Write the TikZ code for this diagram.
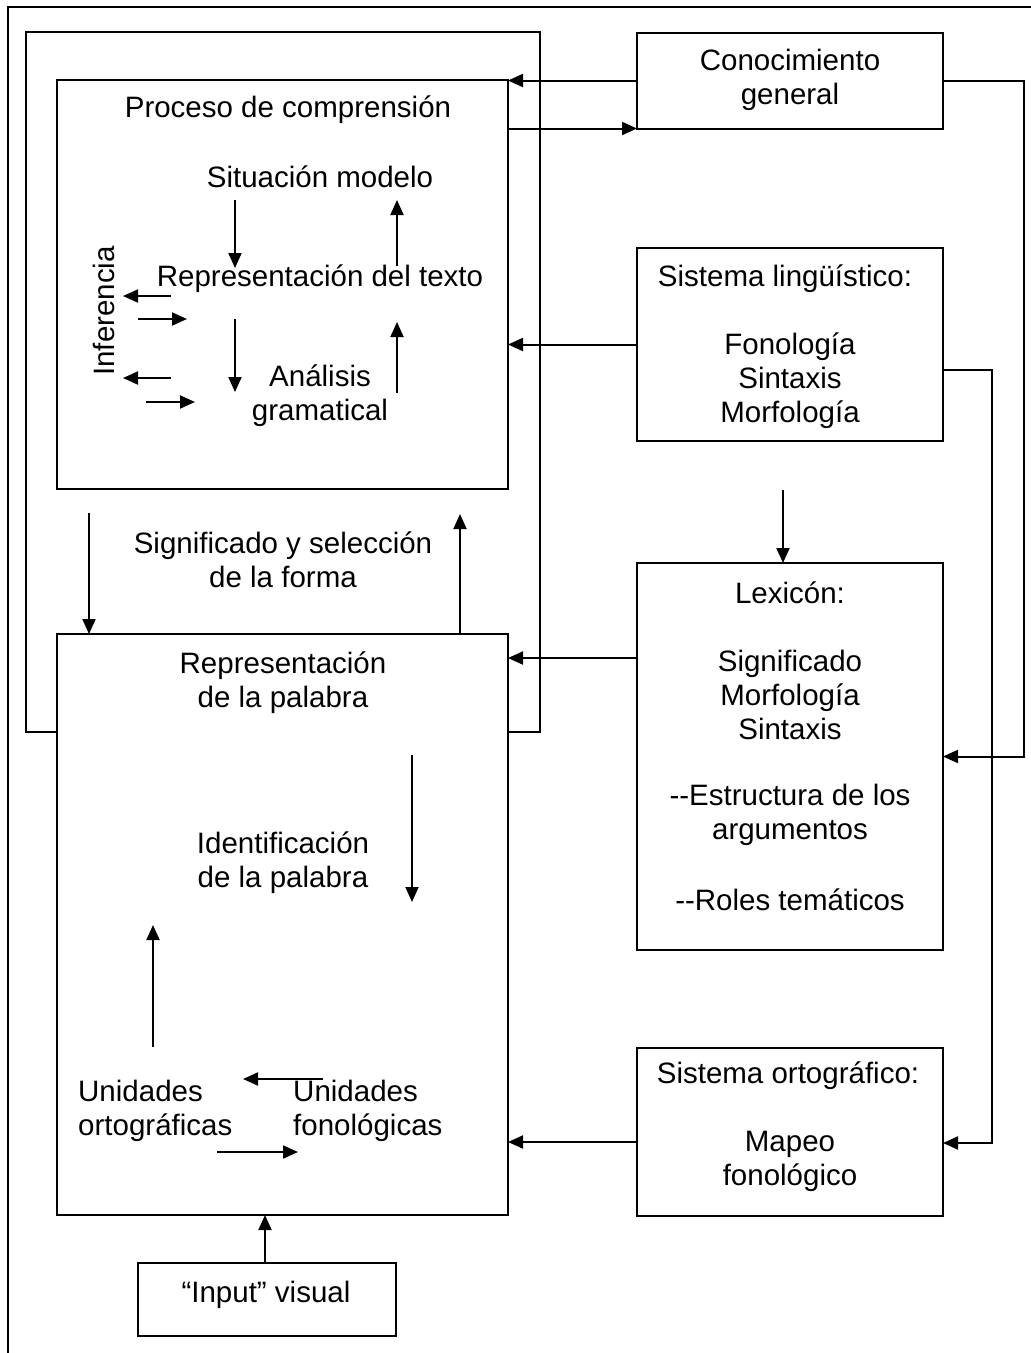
\documentclass[tikz,border=0pt]{standalone}
\usepackage{fontspec}
\setmainfont{Liberation Sans}
\usetikzlibrary{arrows.meta}
\begin{document}
\begin{tikzpicture}[x=1pt,y=-1pt,
  box/.style={draw, line width=2pt, fill=white, inner sep=0pt, outer sep=0pt},
  txt/.style={font=\fontsize{29.5}{34}\selectfont, align=center, inner sep=0pt, yshift=-2pt},
  arr/.style={line width=2pt, -{Triangle[length=15pt,width=13pt]}},
  ln/.style={line width=2pt}]
\useasboundingbox (0,0) rectangle (1031,1353);
\fill[white] (0,0) rectangle (1031,1353);
% outer frame (cut off at right and bottom)
\draw[ln] (8,1353) -- (8,7) -- (1031,7);
% loop around the comprehension process
\draw[ln] (26,32) rectangle (540,732);
% boxes
\node[box, minimum width=451pt, minimum height=409pt] (proc) at (282.5,284.5) {};
\node[box, minimum width=451pt, minimum height=581pt] (rep) at (282.5,924.5) {};
\node[box, minimum width=306pt, minimum height=96pt] (conoc) at (790,80.5) {};
\node[box, minimum width=306pt, minimum height=193pt] (sisl) at (790,344.5) {};
\node[box, minimum width=306pt, minimum height=387pt] (lex) at (790,756.5) {};
\node[box, minimum width=306pt, minimum height=168pt] (orto) at (790,1131.5) {};
\node[box, minimum width=258pt, minimum height=73pt] (input) at (267,1299.5) {};
% texts
\node[txt] (tproc) at (288,108) {Proceso de comprensión};
\node[txt] (tsit) at (320,175) {Situación modelo};
\node[txt] (trtx) at (320,277) {Representación del texto};
\node[txt] (tana) at (320,394) {Análisis\\gramatical};
\node[txt, rotate=90, yshift=2pt] (tinf) at (106,309) {Inferencia};
\node[txt] (tconoc) at (790,78) {Conocimiento\\general};
\node[txt] (tsisl) at (785,277) {Sistema lingüístico:};
\node[txt] (tsisl2) at (790,379) {Fonología\\Sintaxis\\Morfología};
\node[txt] (tsig) at (283,558) {Significado y selección\\de la forma};
\node[txt] (trep) at (283,681) {Representación\\de la palabra};
\node[txt] (tlex) at (790,591) {Lexicón:};
\node[txt] (tlex2) at (790,693) {Significado\\Morfología\\Sintaxis};
\node[txt] (tlex3) at (790,813) {-{}-Estructura de los\\argumentos};
\node[txt] (tlex4) at (790,898) {-{}-Roles temáticos};
\node[txt] (tid) at (283,861) {Identificación\\de la palabra};
\node[txt, align=left, anchor=west] (tuo) at (78,1109) {Unidades\\ortográficas};
\node[txt, align=left, anchor=west] (tuf) at (293,1109) {Unidades\\fonológicas};
\node[txt] (torto) at (788,1074) {Sistema ortográfico:};
\node[txt] (torto2) at (790,1159) {Mapeo\\fonológico};
\node[txt] (tinput) at (266,1293) {“Input” visual};
% connectors between boxes
\draw[arr] (conoc.west) -- (conoc.west -| proc.east);
\draw[arr] (conoc.south west -| proc.east) -- (conoc.south west);
\draw[arr] (conoc.east) -- ++(81,0) |- (lex.east);
\draw[arr] (sisl.west) -- (sisl.west -| proc.east);
\coordinate (sr) at ([yshift=-25.5pt]sisl.east);
\coordinate (oe) at ([yshift=-11.5pt]orto.east);
\draw[arr] (sr) -- ++(49,0) |- (oe);
\coordinate (sl) at (783,490);
\draw[arr] (sl) -- (sl |- lex.north);
\coordinate (lw) at ([yshift=98.5pt]lex.west);
\draw[arr] (lw) -- (lw -| rep.east);
\coordinate (ow) at ([yshift=-10.5pt]orto.west);
\draw[arr] (ow) -- (ow -| rep.east);
\draw[arr] (input.north -| 265,0) -- (rep.south -| 265,0);
\coordinate (pd) at (89,513);
\draw[arr] (pd) -- (pd |- rep.north);
\coordinate (pu) at (460,514);
\draw[arr] (pu |- rep.north) -- (pu);
% arrows inside the comprehension process
\coordinate (a1) at (235,200); \coordinate (a1e) at (235,268);
\draw[arr] (a1) -- (a1e);
\coordinate (a2) at (397,266); \coordinate (a2e) at (397,200);
\draw[arr] (a2) -- (a2e);
\coordinate (a3) at (235,319); \coordinate (a3e) at (235,392);
\draw[arr] (a3) -- (a3e);
\coordinate (a4) at (397,393); \coordinate (a4e) at (397,322);
\draw[arr] (a4) -- (a4e);
\coordinate (i1) at (171,296); \coordinate (i1e) at (123,296);
\draw[arr] (i1) -- (i1e);
\coordinate (i2) at (138,319); \coordinate (i2e) at (187,319);
\draw[arr] (i2) -- (i2e);
\coordinate (i3) at (171,378); \coordinate (i3e) at (123,378);
\draw[arr] (i3) -- (i3e);
\coordinate (i4) at (146,402); \coordinate (i4e) at (195,402);
\draw[arr] (i4) -- (i4e);
% arrows inside the word representation
\coordinate (r1) at (412,755); \coordinate (r1e) at (412,902);
\draw[arr] (r1) -- (r1e);
\coordinate (r2) at (153,1047); \coordinate (r2e) at (153,925);
\draw[arr] (r2) -- (r2e);
\coordinate (u1) at (323,1079); \coordinate (u1e) at (243,1079);
\draw[arr] (u1) -- (u1e);
\coordinate (u2) at (217,1152); \coordinate (u2e) at (298,1152);
\draw[arr] (u2) -- (u2e);
\end{tikzpicture}
\end{document}
